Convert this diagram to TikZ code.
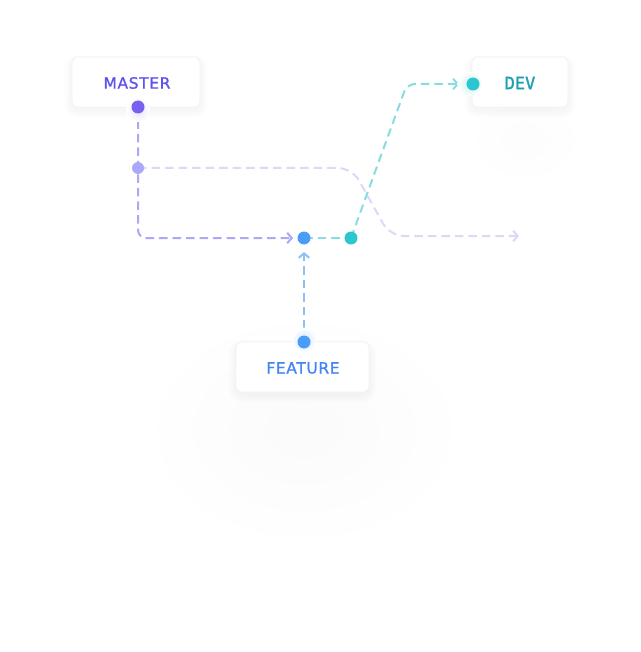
\documentclass[tikz,border=0pt]{standalone}
\usepackage{fontspec}
\setmainfont{DejaVu Sans}[LetterSpace=4,FakeBold=1.2]
\newfontfamily\devfont{DejaVu Sans Mono}[FakeBold=1.4]
\usetikzlibrary{arrows.meta}
\definecolor{mtext}{HTML}{5F52EE}
\definecolor{mdotc}{HTML}{7661F1}
\definecolor{mhalo}{HTML}{E6E3FD}
\definecolor{mmidc}{HTML}{ABA8FA}
\definecolor{mline}{HTML}{ABA8F8}
\definecolor{lline}{HTML}{DDD8FA}
\definecolor{fblue}{HTML}{4A9CF8}
\definecolor{ftext}{HTML}{4584F2}
\definecolor{fline}{HTML}{8CC0F8}
\definecolor{fhalo}{HTML}{D3E6FD}
\definecolor{teal}{HTML}{2CC6D0}
\definecolor{tline}{HTML}{8ADCE3}
\definecolor{thalo}{HTML}{C9EFF2}
\definecolor{dtext}{HTML}{1BA0B4}
\definecolor{cardline}{HTML}{F2F2F5}
\newcommand\softshadow[4]{% x1 y1 x2 y2
  \foreach \s in {1,...,9}{
    \fill[black, opacity=0.0045, rounded corners=6pt+\s pt]
      (#1-\s*0.9, #2-\s*0.6+3) rectangle (#3+\s*0.9, #4+\s*0.9+3);
  }}
\begin{document}
\begin{tikzpicture}[x=1pt,y=-1pt,
  card/.style={draw=cardline, line width=0.6pt, fill=white, rounded corners=6pt,
    minimum height=50pt, inner sep=0pt},
  dotnode/.style={circle, inner sep=0pt, minimum size=13pt},
  dashline/.style={line width=2pt, dash pattern=on 8.5pt off 5pt},
  tipped/.style={-{Straight Barb[length=4.5pt,width=10.5pt]}},
  labeltext/.style={font=\fontsize{15.5}{16}\selectfont}]
\useasboundingbox (0,0) rectangle (640,652);
\fill[white] (0,0) rectangle (640,652);
% faint large shadow below feature
\shade[inner color=black!1.8, outer color=white] (304,430) ellipse (165 and 120);
\shade[inner color=black!1, outer color=white] (525,140) ellipse (60 and 45);
% card shadows
\softshadow{72}{57}{200}{107}
\softshadow{472}{57}{568}{107}
\softshadow{236}{342}{369}{392}
% cards
\node[card, minimum width=128pt] (mbox) at (136,82) {};
\node[labeltext, text=mtext] (mlabel) at (137,83) {MASTER};
\node[card, minimum width=96pt] (dbox) at (520,82) {};
\node[font=\devfont\fontsize{17}{17}\selectfont, text=dtext] (dlabel) at (520,83) {DEV};
\node[card, minimum width=133pt] (fbox) at (302.5,367) {};
\node[labeltext, text=ftext] (flabel) at (303,368) {FEATURE};
% coordinates
\coordinate (pM) at (138,107);
\coordinate (pMid) at (138,168);
\coordinate (pMerge) at (304,238);
\coordinate (pTeal) at (351,238);
\coordinate (pDev) at (473,84);
\coordinate (pF) at (304,342);
\coordinate (k1) at (352,168);
\coordinate (k2) at (390,236);
\coordinate (lEnd) at (519,236);
\coordinate (t1) at (407,84);
% connectors
\draw[dashline, lline, rounded corners=14pt, tipped] (pMid) -- (k1) -- (k2) -- (lEnd);
\draw[dashline, mline, rounded corners=8pt, tipped] (pM) -- (pMid) -- (pM |- pMerge) -- ([xshift=-11pt]pMerge);
\draw[dashline, tline] (pMerge) -- (pTeal);
\draw[dashline, tline, rounded corners=8pt, tipped] (pTeal) -- (t1) -- ([xshift=-14pt]pDev);
\draw[dashline, fline, tipped] (pF) -- ([yshift=-14pt]pMerge);
% halos
\shade[inner color=mhalo, outer color=white] (138,110) circle (12);
\shade[inner color=thalo, outer color=white] (470,84) circle (12.5);
\shade[inner color=fhalo, outer color=white] (304,340) circle (12.5);
% dots
\node[dotnode, fill=mdotc] (masterdot) at (pM) {};
\node[dotnode, fill=mmidc, minimum size=12pt] (middot) at (pMid) {};
\node[dotnode, fill=fblue] (mergedot) at (pMerge) {};
\node[dotnode, fill=teal] (tealdot) at (pTeal) {};
\node[dotnode, fill=teal] (devdot) at (pDev) {};
\node[dotnode, fill=fblue] (featuredot) at (pF) {};
\end{tikzpicture}
\end{document}
